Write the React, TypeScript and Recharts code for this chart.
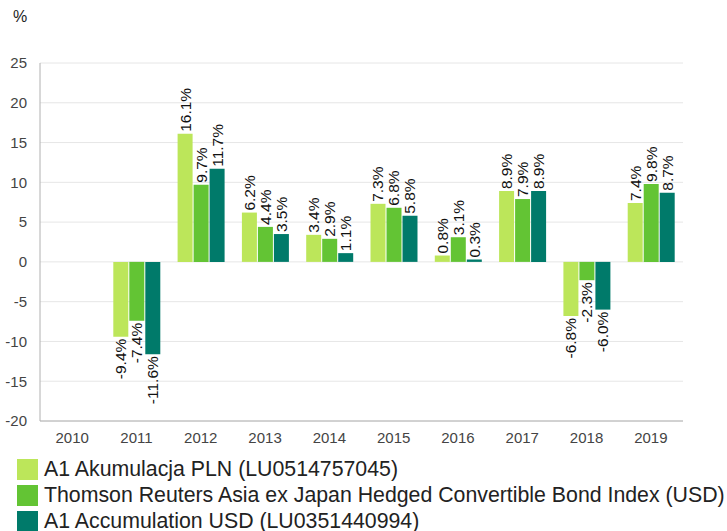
import { Bar, BarChart, CartesianGrid, XAxis, YAxis, LabelList } from "recharts";

const years = ["2010", "2011", "2012", "2013", "2014", "2015", "2016", "2017", "2018", "2019"];
const fundPln = [null, -9.4, 16.1, 6.2, 3.4, 7.3, 0.8, 8.9, -6.8, 7.4];
const benchmark = [null, -7.4, 9.7, 4.4, 2.9, 6.8, 3.1, 7.9, -2.3, 9.8];
const fundUsd = [null, -11.6, 11.7, 3.5, 1.1, 5.8, 0.3, 8.9, -6.0, 8.7];
const yTicks = [-20, -15, -10, -5, 0, 5, 10, 15, 20, 25];

const series = [
  { key: "pln", name: "A1 Akumulacja PLN (LU0514757045)", color: "#bce65a" },
  { key: "bench", name: "Thomson Reuters Asia ex Japan Hedged Convertible Bond Index (USD)", color: "#63c434" },
  { key: "usd", name: "A1 Accumulation USD (LU0351440994)", color: "#007a6a" },
];

const data = years.map((year, i) => ({
  year,
  pln: fundPln[i],
  bench: benchmark[i],
  usd: fundUsd[i],
}));

const FONT = "'Liberation Sans', Arial, sans-serif";

function BarLabel(props: any) {
  const { x, y, width, height, value } = props;
  if (value === null || value === undefined) return null;
  const cx = x + width / 2;
  const top = Math.min(y, y + height);
  const bottom = Math.max(y, y + height);
  const pos = value >= 0;
  const ty = pos ? top - 2 : bottom + 2;
  return (
    <text
      x={cx}
      y={ty}
      transform={`rotate(-90 ${cx} ${ty})`}
      textAnchor={pos ? "start" : "end"}
      dominantBaseline="central"
      fontSize={15.5}
      fontFamily={FONT}
      fill="#111"
    >
      {value.toFixed(1)}%
    </text>
  );
}

export default function App() {
  return (
    <div style={{ position: "absolute", left: 0, top: 0, width: 727, height: 531, background: "#fff", overflow: "hidden" }}>
      <div style={{ position: "absolute", left: 13, top: 8, fontFamily: FONT, fontSize: 16, color: "#222" }}>%</div>
      <BarChart
        width={727}
        height={450}
        data={data}
        margin={{ top: 63, right: 44, bottom: 0, left: 0 }}
        barSize={15}
        barGap={1}
      >
        <CartesianGrid vertical={false} stroke="#e6e6e6" />
        <XAxis
          dataKey="year"
          tickLine={false}
          axisLine={{ stroke: "#b0b0b0" }}
          tick={{ fill: "#444", fontSize: 15, fontFamily: FONT }}
          height={29}
          tickMargin={5}
        />
        <YAxis
          domain={[-20, 25]}
          ticks={yTicks}
          interval={0}
          tickLine={false}
          axisLine={{ stroke: "#b0b0b0" }}
          tick={{ fill: "#444", fontSize: 15, fontFamily: FONT }}
          width={40}
          tickMargin={7}
        />
        {series.map((s) => (
          <Bar key={s.key} dataKey={s.key} name={s.name} fill={s.color} isAnimationActive={false}>
            <LabelList dataKey={s.key} content={BarLabel} />
          </Bar>
        ))}
      </BarChart>
      <div style={{ position: "absolute", left: 17, top: 456, fontFamily: FONT, fontSize: 21.3, color: "#222" }}>
        {series.map((s) => (
          <div key={s.key} style={{ display: "flex", alignItems: "center", height: 26 }}>
            <div style={{ width: 21, height: 21, background: s.color, marginRight: 6, flexShrink: 0 }} />
            <span style={{ whiteSpace: "nowrap" }}>{s.name}</span>
          </div>
        ))}
      </div>
    </div>
  );
}
